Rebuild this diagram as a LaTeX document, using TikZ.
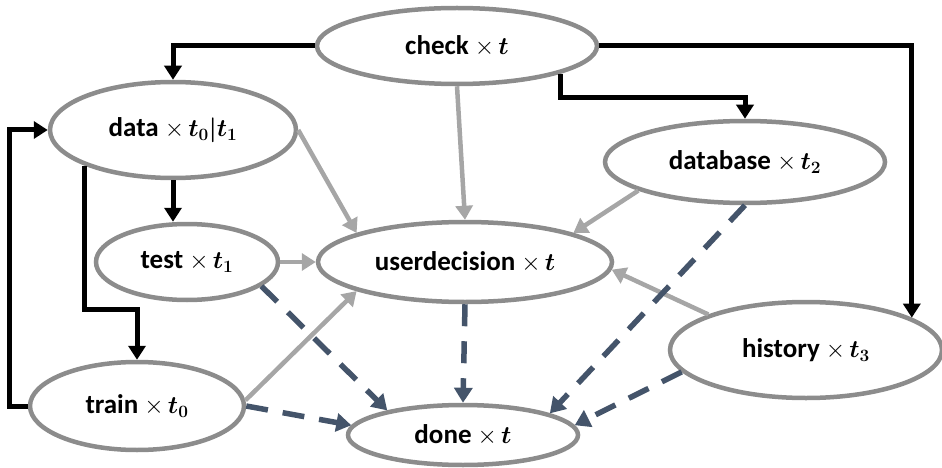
\documentclass[tikz,border=0pt]{standalone}
\usepackage{amsmath}
\usepackage{bm}
\usepackage[no-math]{fontspec}
\setmainfont{Carlito}
\usetikzlibrary{arrows.meta}
\usetikzlibrary{shapes.geometric}
\definecolor{ringgray}{HTML}{8C8C8C}
\definecolor{feedgray}{HTML}{A6A6A6}
\definecolor{slate}{HTML}{44546A}
\tikzset{state/.style = {ellipse, draw = ringgray, line width = 4.5pt, fill = white, inner sep = 0, font = \fontsize{27}{30}\selectfont\bfseries}}
\tikzset{ctrl/.style = {line width = 5pt, -{Triangle[length = 14pt, width = 17pt]}}}
\tikzset{feed/.style = {draw = feedgray, line width = 4.5pt, -{Triangle[length = 14pt, width = 17pt]}}}
\tikzset{finish/.style = {draw = slate, line width = 5.5pt, dash pattern = on 22pt off 15pt, -{Triangle[length = 15pt, width = 18pt]}}}

\begin{document}
\begin{tikzpicture}[x = 1pt, y = -1pt]

      \useasboundingbox (0, 0) rectangle (942, 468);

      \node [state, minimum width = 280, minimum height = 76] (check) at (457, 46) {check $\times\,\bm{t}$};
      \node [state, minimum width = 246, minimum height = 96] (data) at (173, 130) {data $\times\,\bm{t_0|t_1}$};
      \node [state, minimum width = 280, minimum height = 82] (database) at (745, 162) {database $\times\,\bm{t_2}$};
      \node [state, minimum width = 182, minimum height = 76] (test) at (187, 262) {test $\times\,\bm{t_1}$};
      \node [state, minimum width = 294, minimum height = 80] (ud) at (465, 262) {userdecision $\times\,\bm{t}$};
      \node [state, minimum width = 272, minimum height = 96] (history) at (806, 350) {history $\times\,\bm{t_3}$};
      \node [state, minimum width = 214, minimum height = 88] (train) at (137, 406) {train $\times\,\bm{t_0}$};
      \node [state, minimum width = 230, minimum height = 60] (done) at (463, 435) {done $\times\,\bm{t}$};

      % control flow
      \draw [ctrl] (check.west) -| (data.north);
      \draw [ctrl] (check.-15) -- ++(0, 24) -| (database.north);
      \draw [ctrl] (check.east) -| (history.17);
      \draw [ctrl] (data.south) -- (data.south |- test.north);
      \draw [ctrl] (data.-158) -- ++(0, 144) -| (train.north);
      \draw [ctrl] (train.west) -- ++(-18, 0) |- (data.west);

      % inputs to the user decision
      \draw [feed] (data.east) -- (ud.165);
      \draw [feed] (check.south) -- (ud.north);
      \draw [feed] (database.195) -- (ud.15);
      \draw [feed] (test.east) -- (ud.west);
      \draw [feed] (train.3) -- (ud.-165);
      \draw [feed] (history.160) -- (ud.-3);

      % finishing
      \draw [finish] (test.-18) -- (done.162);
      \draw [finish] (ud.south) -- (done.north);
      \draw [finish] (database.south) -- (done.14);
      \draw [finish] (history.190) -- (done.5);
      \draw [finish] (train.east) -- (done.175);
    \end{tikzpicture}
\end{document}
